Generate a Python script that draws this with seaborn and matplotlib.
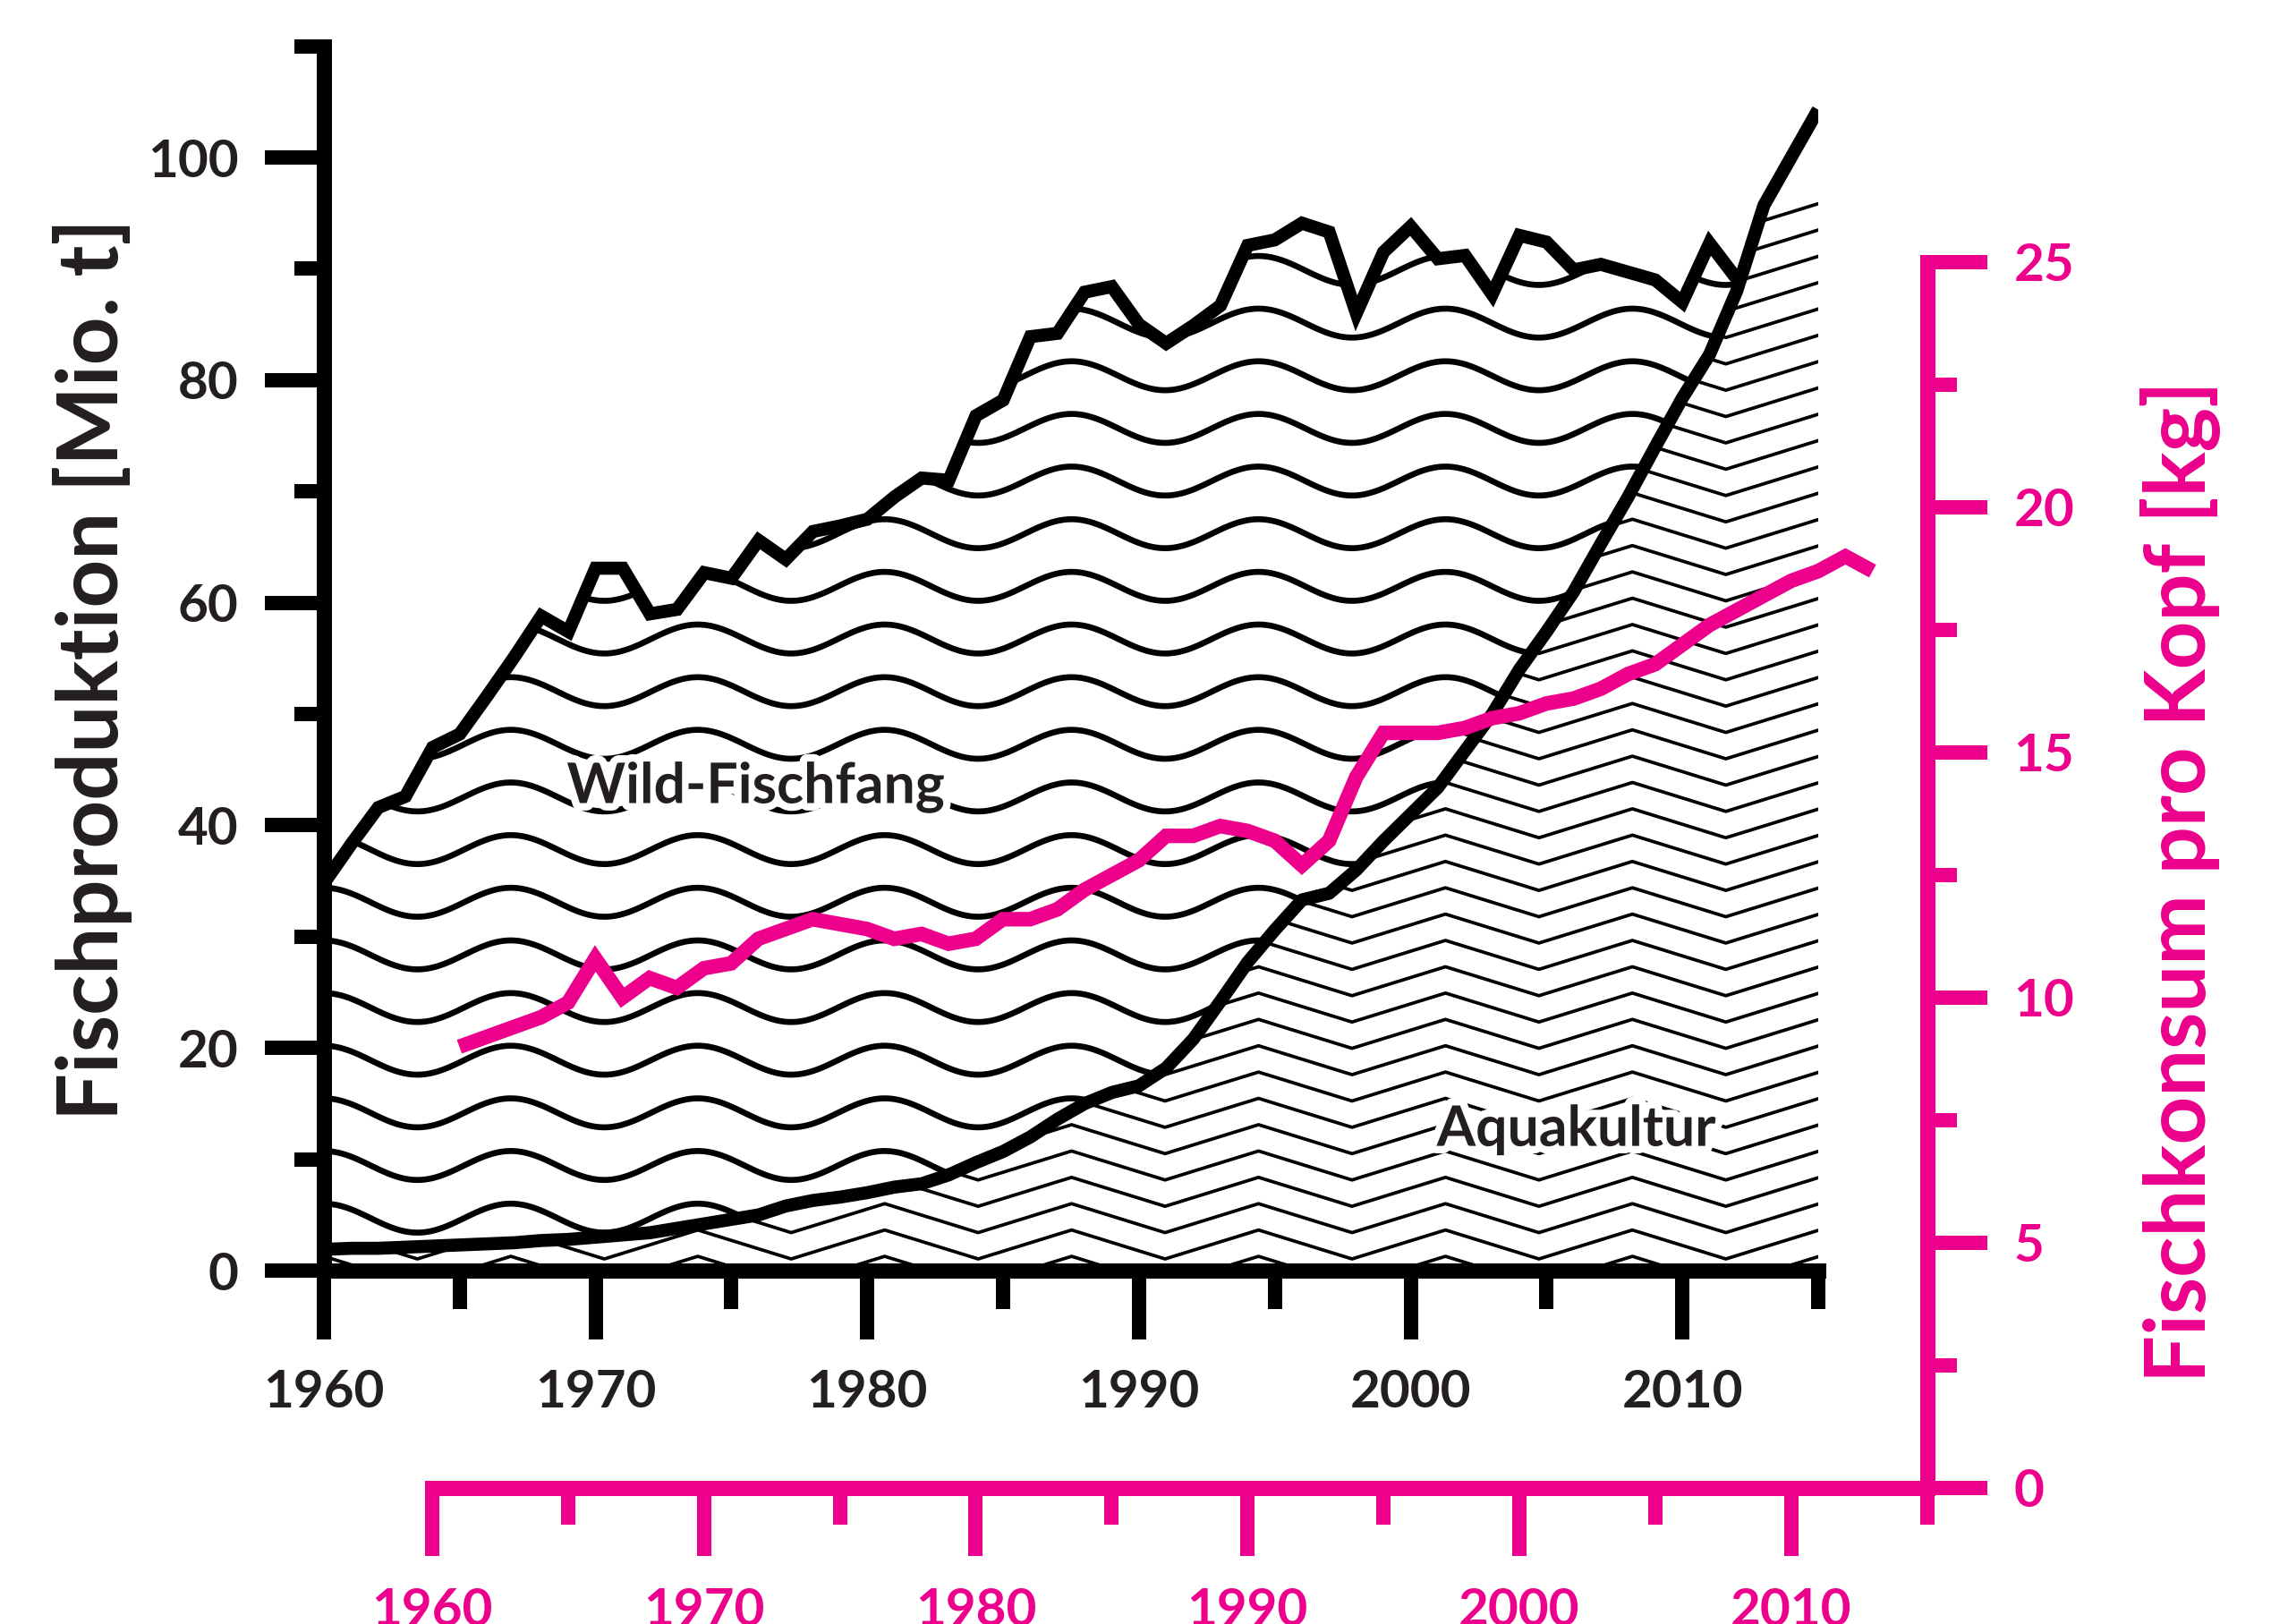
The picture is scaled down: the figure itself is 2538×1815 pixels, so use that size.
import numpy as np
import pandas as pd
import matplotlib
matplotlib.use('Agg')
import matplotlib.pyplot as plt
import matplotlib.patheffects as pe
from matplotlib.collections import LineCollection
import seaborn as sns

# --- data ---
years_capture = list(range(1960, 2013))
capture = [34.8, 38.3, 41.6, 42.6, 47.0, 48.2, 51.6, 55.1, 58.8, 57.4,
           63.1, 63.1, 59.0, 59.4, 62.7, 62.2, 65.6, 63.9, 66.4, 66.9,
           67.5, 69.5, 71.2, 71.0, 76.8, 78.2, 83.9, 84.2, 87.9, 88.4,
           85.0, 83.3, 84.9, 86.7, 92.1, 92.6, 94.1, 93.3, 86.0, 91.5,
           93.8, 90.9, 91.2, 87.7, 93.0, 92.4, 89.9, 90.4, 89.7, 89.0,
           87.0, 92.3, 89.1]

years_aqua = list(range(1960, 2016))
aqua = [1.9, 2.0, 2.0, 2.1, 2.2, 2.3, 2.4, 2.5, 2.7, 2.8,
        3.0, 3.2, 3.4, 3.8, 4.2, 4.6, 5.0, 5.8, 6.3, 6.6,
        7.0, 7.5, 7.8, 8.6, 9.7, 10.7, 12.0, 13.6, 15.0, 16.0,
        16.6, 18.2, 20.8, 24.2, 27.7, 30.6, 33.3, 33.9, 36.0, 38.6,
        41.0, 43.4, 46.7, 50.0, 54.0, 57.4, 61.0, 65.3, 69.5, 74.0,
        78.4, 82.3, 88.0, 95.7, 100.0, 104.3]

years_consum = list(range(1961, 2014))
consum = [9.0, 9.2, 9.4, 9.6, 9.9, 10.8, 10.0, 10.4, 10.2, 10.6,
          10.7, 11.2, 11.4, 11.6, 11.5, 11.4, 11.2, 11.3, 11.1, 11.2,
          11.6, 11.6, 11.8, 12.2, 12.5, 12.8, 13.3, 13.3, 13.5, 13.4,
          13.2, 12.7, 13.2, 14.5, 15.4, 15.4, 15.4, 15.5, 15.7, 15.8,
          16.0, 16.1, 16.3, 16.6, 16.8, 17.2, 17.6, 17.9, 18.2, 18.5,
          18.7, 19.0, 18.7]

x_major = [1960, 1970, 1980, 1990, 2000, 2010]
x_minor = [1965, 1975, 1985, 1995, 2005, 2015]
prod_major = [0, 20, 40, 60, 80, 100]
prod_minor = [10, 30, 50, 70, 90, 110]
kg_major = [0, 5, 10, 15, 20, 25]
kg_minor = [2.5, 7.5, 12.5, 17.5, 22.5]

label_wild = 'Wild-Fischfang'
label_aqua = 'Aquakultur'
ylabel_left = 'Fischproduktion [Mio. t]'
ylabel_right = 'Fischkonsum pro Kopf [kg]'

MAG = '#EC008C'
TXT = '#231F20'

sns.set_theme(style='white')
plt.rcParams['font.family'] = ['Lato', 'DejaVu Sans']
plt.rcParams['font.weight'] = 'bold'
plt.rcParams['axes.labelweight'] = 'bold'

DPI = 300
fig = plt.figure(figsize=(2538 / DPI, 1815 / DPI), dpi=DPI)
ax = fig.add_axes([0.14263, 0.21763, 0.65800, 0.75394])
ax2 = fig.add_axes([0.19031, 0.08375, 0.65820, 0.75482])
ax2.patch.set_visible(False)

# regions used as clip shapes for the two fill textures
wild_fill = ax.fill_between(years_capture, aqua[:len(years_capture)], capture,
                            facecolor='none', edgecolor='none')
aqua_fill = ax.fill_between(years_aqua, 0, aqua, facecolor='none', edgecolor='none')

# wave texture (wild catch)
period = 6.88
amp = 1.3
xs = np.linspace(1960, 2015, 900)
waves = []
for k in range(-4, 21):
    crest = 20.2 + k * 4.73
    waves.append(np.column_stack([xs, crest - amp * (1 - np.cos(2 * np.pi * (xs - 1960) / period))]))
wave_lc = LineCollection(waves, colors='black', linewidths=1.6, capstyle='round', zorder=2)
ax.add_collection(wave_lc)
wave_lc.set_clip_path(wild_fill.get_paths()[0], ax.transData)

# zigzag texture (aquaculture)
xv = 1960 + period * np.arange(0, 17) / 2
zig = []
for j in range(-1, 41):
    peak = 1.28 + j * 2.365
    yv = np.where(np.arange(0, 17) % 2 == 0, peak, peak - 2 * amp)
    zig.append(np.column_stack([xv, yv]))
zig_lc = LineCollection(zig, colors='black', linewidths=0.9, zorder=2)
ax.add_collection(zig_lc)
zig_lc.set_clip_path(aqua_fill.get_paths()[0], ax.transData)

df_cap = pd.DataFrame({'Jahr': years_capture, 'Mio. t': capture})
df_aqua = pd.DataFrame({'Jahr': years_aqua, 'Mio. t': aqua})
df_con = pd.DataFrame({'Jahr': years_consum, 'kg': consum})

sns.lineplot(data=df_cap, x='Jahr', y='Mio. t', ax=ax, color='black', lw=3.5,
             solid_joinstyle='miter', solid_capstyle='butt', zorder=4)
sns.lineplot(data=df_aqua, x='Jahr', y='Mio. t', ax=ax, color='black', lw=3.5,
             solid_joinstyle='round', solid_capstyle='butt', zorder=4)

halo = [pe.withStroke(linewidth=4, foreground='white')]
ax.text(1975.9, 42.0, label_wild, ha='center', va='baseline', fontsize=15,
        color=TXT, path_effects=halo, zorder=5)
ax.text(2006.1, 11.2, label_aqua, ha='center', va='baseline', fontsize=15,
        color=TXT, path_effects=halo, zorder=5)

ax.set_xlim(1960, 2015)
ax.set_ylim(0, 110)
ax.set_xticks(x_major)
ax.set_xticks(x_minor, minor=True)
ax.set_yticks(prod_major)
ax.set_yticks(prod_minor, minor=True)
ax.set_yticklabels([str(v) for v in prod_major])
ax.tick_params(bottom=True, left=True, which='both', direction='out', width=3.84,
               color='black', labelcolor=TXT, labelsize=14)
ax.tick_params(axis='x', which='major', length=18.5, pad=8)
ax.tick_params(axis='x', which='minor', length=10.3)
ax.tick_params(axis='y', which='major', length=15.9, pad=7)
ax.tick_params(axis='y', which='minor', length=7.9)
for s in ['top', 'right']:
    ax.spines[s].set_visible(False)
for s in ['left', 'bottom']:
    ax.spines[s].set_linewidth(4.08)
    ax.spines[s].set_color('black')
ax.set_xlabel('')
ax.set_ylabel(ylabel_left, fontsize=22.5, color=TXT, fontweight='bold')
ax.yaxis.set_label_coords(-0.1282, 0.4907)

# per-capita consumption on its own offset axes
sns.lineplot(data=df_con, x='Jahr', y='kg', ax=ax2, color=MAG, lw=3.9,
             solid_joinstyle='miter', solid_capstyle='butt')
ax2.set_xlim(1960, 2015)
ax2.set_ylim(0, 25)
ax2.yaxis.tick_right()
ax2.yaxis.set_label_position('right')
ax2.set_xticks(x_major)
ax2.set_xticks(x_minor, minor=True)
ax2.set_yticks(kg_major)
ax2.set_yticks(kg_minor, minor=True)
ax2.tick_params(which='both', direction='out', width=3.84, color=MAG,
                labelcolor=MAG, labelsize=14, bottom=True, right=True, left=False)
ax2.tick_params(axis='x', which='major', length=18.2, pad=8.4)
ax2.tick_params(axis='x', which='minor', length=9.8)
ax2.tick_params(axis='y', which='major', length=16.1, pad=7.2)
ax2.tick_params(axis='y', which='minor', length=8.0)
for s in ['top', 'left']:
    ax2.spines[s].set_visible(False)
for s in ['right', 'bottom']:
    ax2.spines[s].set_linewidth(4.08)
    ax2.spines[s].set_color(MAG)
ax2.set_xlabel('')
ax2.set_ylabel(ylabel_right, fontsize=22.5, color=MAG, fontweight='bold')
ax2.yaxis.set_label_coords(1.1428, 0.4949)

fig.savefig('out.png', dpi=DPI)
